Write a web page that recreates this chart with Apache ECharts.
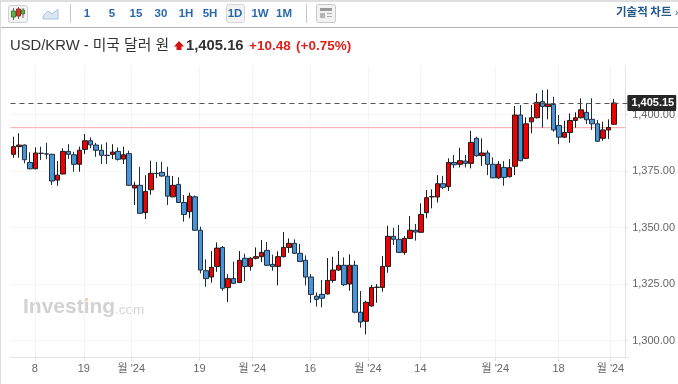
<!DOCTYPE html>
<html><head><meta charset="utf-8">
<style>html,body{margin:0;padding:0;background:#fff}#c{width:678px;height:384px}</style>
<script src="https://cdn.jsdelivr.net/npm/echarts@6/dist/echarts.min.js"></script>
</head><body><div id="c"></div>
<script>
const opens=[1382.4,1385.8,1386.5,1378.8,1376.0,1382.9,1382.6,1382.4,1371.0,1373.7,1383.7,1382.2,1378.0,1384.6,1388.4,1386.5,1384.2,1382.0,1382.4,1383.7,1380.3,1382.7,1367.5,1368.7,1356.6,1366.7,1374.0,1374.4,1372.7,1363.6,1369.1,1361.1,1357.0,1363.6,1348.8,1330.9,1328.1,1332.8,1341.2,1323.4,1327.4,1325.7,1336.4,1332.8,1336.4,1337.1,1339.9,1333.7,1332.8,1337.1,1341.2,1343.0,1338.6,1335.5,1328.1,1319.6,1320.4,1320.6,1326.6,1331.2,1333.3,1325.0,1333.3,1312.5,1308.5,1315.3,1323.5,1323.5,1332.8,1346.1,1344.8,1339.0,1345.2,1348.8,1347.9,1356.6,1363.6,1363.5,1369.4,1368.1,1378.8,1378.0,1379.4,1378.4,1389.5,1381.8,1383.0,1378.0,1372.0,1376.6,1372.5,1377.1,1399.8,1380.6,1396.8,1398.6,1405.7,1403.6,1404.5,1395.2,1390.0,1392.1,1397.4,1398.6,1401.0,1397.9,1395.9,1389.5,1393.2,1395.7];
const closes=[1385.8,1386.5,1380.0,1376.0,1383.0,1382.8,1382.5,1370.6,1373.2,1383.7,1382.4,1378.0,1384.2,1388.4,1386.6,1384.2,1382.0,1381.9,1383.4,1380.2,1382.2,1368.7,1368.7,1356.3,1366.0,1374.0,1373.9,1372.8,1363.9,1368.7,1361.1,1355.8,1363.9,1348.8,1331.2,1327.4,1332.4,1340.9,1323.1,1327.4,1325.3,1335.5,1332.8,1336.4,1337.1,1339.0,1333.3,1332.7,1337.1,1341.2,1343.0,1338.6,1335.0,1328.1,1320.4,1318.2,1318.7,1326.6,1331.2,1333.3,1324.7,1333.3,1312.5,1308.2,1316.9,1323.5,1323.6,1332.8,1346.1,1344.8,1339.0,1345.2,1348.8,1348.0,1355.8,1363.2,1363.7,1369.4,1367.8,1378.8,1377.8,1379.6,1378.4,1387.7,1381.8,1383.0,1378.0,1372.0,1378.0,1372.2,1376.5,1399.8,1379.6,1395.9,1398.6,1405.4,1403.6,1404.6,1393.2,1390.0,1392.1,1397.4,1398.6,1402.1,1397.7,1395.9,1388.2,1393.2,1394.3,1405.15];
const lows=[1380.9,1380.9,1378.4,1375.8,1375.8,1379.9,1380.2,1368.8,1368.5,1373.5,1380.3,1374.7,1374.7,1382.5,1385.1,1381.3,1378.1,1378.1,1380.3,1379.6,1378.1,1368.5,1360.0,1356.1,1353.8,1364.5,1371.9,1372.5,1360.0,1363.4,1361.0,1352.6,1354.1,1348.6,1329.7,1323.8,1325.6,1330.4,1322.0,1317.0,1325.0,1325.4,1326.3,1330.9,1335.9,1334.7,1333.0,1330.9,1324.4,1336.8,1338.8,1338.3,1334.7,1324.4,1316.7,1315.0,1314.7,1320.4,1325.6,1330.9,1324.1,1322.0,1312.0,1305.7,1302.7,1315.0,1316.7,1321.6,1330.0,1342.3,1338.8,1338.0,1344.9,1344.2,1347.7,1354.1,1358.5,1361.1,1367.0,1366.2,1376.3,1376.6,1376.6,1376.2,1381.3,1377.3,1373.2,1371.8,1371.5,1368.5,1372.2,1373.2,1379.3,1380.3,1391.7,1398.3,1394.2,1397.9,1392.4,1386.9,1389.6,1387.5,1394.2,1398.3,1395.8,1393.2,1388.0,1388.4,1389.2,1395.5];
const highs=[1390.2,1391.7,1386.8,1383.3,1385.5,1385.8,1387.5,1382.7,1379.4,1385.1,1386.9,1383.5,1385.8,1391.4,1389.9,1387.5,1386.8,1387.7,1386.9,1385.5,1385.8,1384.0,1370.3,1376.9,1373.2,1379.6,1379.0,1379.1,1376.9,1372.8,1372.2,1364.4,1365.4,1364.2,1350.4,1335.9,1339.6,1343.4,1341.8,1329.3,1334.9,1339.6,1338.4,1336.9,1341.2,1344.5,1343.6,1338.0,1339.5,1348.0,1345.2,1344.8,1342.7,1337.7,1329.4,1321.3,1326.8,1336.5,1337.1,1339.6,1336.8,1338.1,1335.3,1321.9,1317.6,1324.6,1325.0,1337.4,1350.8,1349.9,1351.2,1346.2,1355.1,1351.6,1360.7,1366.6,1366.9,1373.2,1372.9,1380.6,1382.1,1385.3,1382.1,1392.8,1390.2,1389.5,1384.2,1381.1,1379.4,1379.4,1380.3,1403.8,1404.2,1398.8,1404.2,1409.4,1410.8,1411.1,1407.9,1399.8,1397.3,1400.5,1401.0,1407.2,1405.0,1407.2,1397.6,1396.8,1397.9,1406.9];
const yTicks=[1300,1325,1350,1375,1400];
const xTickPositions=[3.93,12.79,21.42,33.77,43.36,53.85,64.34,73.87,87.44,98.93,108.34];
const xTickLabels=['8','19',"월 '24",'19',"월 '24",'16',"월 '24",'14',"월 '24",'18',"월 '24"];
const lastPrice=1405.15;
const refPrice=1394.2;
const priceSpan=[-0.5,111];
const periods=['1','5','15','30','1H','5H','1D','1W','1M'];
const periodX=[87,112,136,161,186,210,235,260,284];

const categories=opens.map((_,i)=>String(i)).concat(['','']);
const candles=opens.map((o,i)=>[o,closes[i],lows[i],highs[i]]);
const LAT='"Liberation Sans",Arial,"Noto Sans CJK KR",sans-serif';
const KR='"Noto Sans CJK KR",sans-serif';
const GRIDC='#f4f4f4', AXC='#e3e3e3', LAB='#666';
const txt=(x,y,t,font,fill,align)=>({type:'text',silent:true,x,y,style:{text:t,font,fill,align:align||'left',verticalAlign:'middle'}});
const rect=(x,y,w,h,fill,stroke,r)=>({type:'rect',silent:true,shape:{x,y,width:w,height:h,r:r||0},style:{fill,stroke:stroke||null,lineWidth:1}});
const line=(x1,y1,x2,y2,stroke,w)=>({type:'line',silent:true,shape:{x1,y1,x2,y2},style:{stroke,lineWidth:w||1}});

const chrome=[
 rect(0,0,678,2,'#dedede'), rect(0,27,678,1,'#b0b0b0'), rect(0,2,1,382,'#dcdcdc'),
 rect(8.5,5.5,19,17,'#f3f3f3','#cfcfcf',2),
 line(13.5,8,13.5,20,'#666'),rect(11.5,11,4,6,'#5fb04a','#3f7f30'),
 line(18.5,7,18.5,19,'#666'),rect(16.5,9,4,7,'#d23a2e','#a02a20'),
 line(23,8,23,18,'#666'),rect(21.5,10,3,4,'#5fb04a','#3f7f30'),
 {type:'polygon',silent:true,shape:{points:[[43,19],[43,16],[48,11],[52,14],[58,9],[58,19]]},style:{fill:'#dbe6f2',stroke:'#a8c3de',lineWidth:1}},
 rect(70,4,1,19,'#c8c8c8'),
 rect(226.5,4.5,18,18,'#f2f2f2','#d6d6d6',2),
 rect(306,4,1,19,'#c8c8c8'),
 rect(316.5,4.5,19,18,'#f2f2f2','#c8c8c8',2),
 rect(320,8,12,3,'#9a9a9a'),rect(320,13,5,5,'#b5b5b5'),line(327,13.5,332,13.5,'#aaa'),line(327,16.5,332,16.5,'#aaa'),
 ...periods.map((p,i)=>txt(periodX[i],13.5,p,'bold 11.5px '+LAT,'#2a68ad','center')),
 txt(616,12,'기술적 차트','bold 11.5px '+KR,'#23598f'),
 txt(675,13,'›','10px '+LAT,'#23598f'),
 txt(10,46,'USD/KRW - 미국 달러 원','14.8px "Liberation Sans","Noto Sans CJK KR",sans-serif','#333'),
 {type:'polygon',silent:true,shape:{points:[[179,41],[184,46.5],[181.5,46.5],[181.5,50],[176.5,50],[176.5,46.5],[174,46.5]]},style:{fill:'#d8120f'}},
 txt(186,46,'1,405.16','bold 14.8px '+LAT,'#333'),
 txt(249,46,'+10.48','bold 13.5px '+LAT,'#e0201c'),
 txt(296,46,'(+0.75%)','bold 13.5px '+LAT,'#e0201c'),
 txt(23,307.5,'Investing','bold 21px '+LAT,'#d2d2d2'),
 rect(84.5,299.5,3,2,'#f5cf94'),
 txt(115,310,'.com','13.5px '+LAT,'#d6d6d6')
];

const chart=echarts.init(document.getElementById('c'),null,{renderer:'canvas'});
chart.setOption({
 animation:false,
 grid:{left:10.5,width:619.2,top:66,bottom:27,containLabel:false},
 graphic:{elements:chrome},
 xAxis:[
  {type:'category',data:categories,boundaryGap:true,axisLine:{show:false},axisTick:{show:false},axisLabel:{show:false},splitLine:{show:false}},
  {type:'value',position:'bottom',min:-0.5,max:111.5,
   axisLine:{show:true,onZero:false,lineStyle:{color:AXC}},
   axisTick:{show:true,length:4,customValues:xTickPositions,lineStyle:{color:AXC}},
   axisLabel:{show:true,customValues:xTickPositions,margin:6,fontFamily:'"Liberation Sans","Noto Sans CJK KR",sans-serif',fontSize:11,color:LAB,hideOverlap:false,
     formatter:v=>{const i=xTickPositions.indexOf(v);return i<0?'':xTickLabels[i];}},
   splitLine:{show:true,lineStyle:{color:GRIDC}}}
 ],
 yAxis:{type:'value',position:'right',offset:-2.7,min:1292.7,max:1421.5,
   axisLine:{show:true,onZero:false,lineStyle:{color:AXC}},
   axisTick:{show:true,length:3,customValues:yTicks,lineStyle:{color:AXC}},
   axisLabel:{show:true,customValues:yTicks,margin:7,fontFamily:LAT,fontSize:11,color:LAB,
     formatter:v=>v.toLocaleString('en-US',{minimumFractionDigits:2,maximumFractionDigits:2})},
   splitLine:{show:true,lineStyle:{color:GRIDC}}},
 series:[
  {type:'line',xAxisIndex:1,data:priceSpan.map(x=>[x,refPrice]),symbol:'none',silent:true,z:1,lineStyle:{color:'#f4a9a6',width:1},itemStyle:{color:'#f4a9a6'}},
  {type:'candlestick',xAxisIndex:0,data:candles,barWidth:5,z:3,
   itemStyle:{color:'#f00000',color0:'#4a93d4',borderColor:'#1c1c1c',borderColor0:'#1d2f45',borderWidth:1},
   markLine:{silent:true,symbol:'none',animation:false,data:[
     {yAxis:lastPrice,lineStyle:{color:'#555',type:[5,4],width:1},
      label:{show:true,position:'end',distance:0,offset:[-0.5,0],formatter:()=>lastPrice.toLocaleString('en-US',{minimumFractionDigits:2}),
        backgroundColor:'#262626',color:'#fff',fontFamily:LAT,fontSize:11,fontWeight:'bold',padding:[3,2,2,4],borderRadius:1}}
   ]}}]
});
</script></body></html>
